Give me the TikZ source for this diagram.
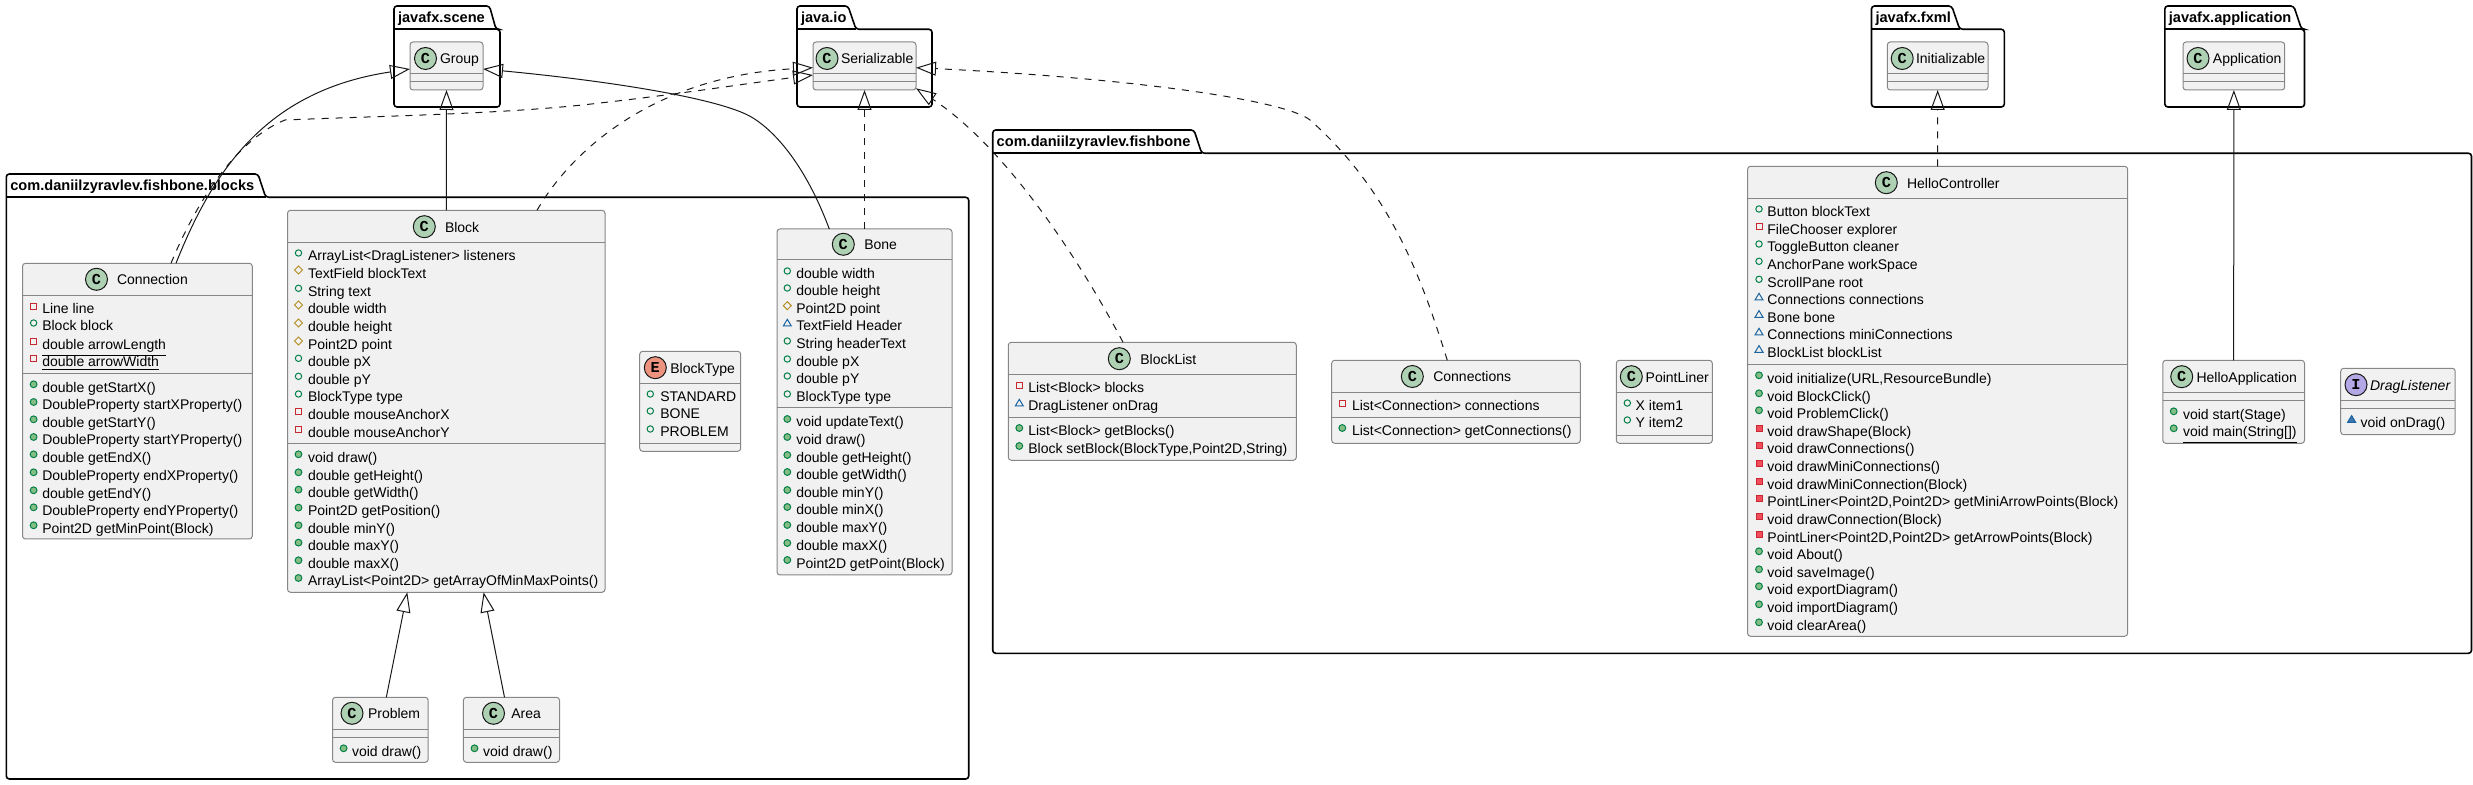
\documentclass[tikz,border=0pt]{standalone}
\usepackage{fontspec}
\setmainfont{Liberation Sans}
\newfontfamily\badgefont{Liberation Mono}[BoldFont={* Bold}]
\usetikzlibrary{arrows.meta}
\definecolor{boxfill}{HTML}{F1F1F1}
\definecolor{boxedge}{HTML}{868686}
\definecolor{linedark}{HTML}{181818}
\definecolor{cbadge}{HTML}{ADD1B2}
\definecolor{ebadge}{HTML}{EB937F}
\definecolor{ibadge}{HTML}{B4A7E5}
\definecolor{pubedge}{HTML}{038048}
\definecolor{pubfill}{HTML}{84BE84}
\definecolor{priedge}{HTML}{C82930}
\definecolor{prifill}{HTML}{F24D5C}
\definecolor{proedge}{HTML}{B38D22}
\definecolor{pacedge}{HTML}{1963A0}
\definecolor{pacfill}{HTML}{4177AF}
\def\px{0.5pt}
\tikzset{
  classbox/.style={draw=boxedge,fill=boxfill,line width=0.5pt,rounded corners=1.5pt,inner sep=0pt,outer sep=0pt,rectangle},
  classline/.style={draw=boxedge,line width=0.5pt},
  badge/.style={circle,draw=linedark,line width=0.5pt,inner sep=0pt,minimum size=11pt,font=\badgefont\bfseries\fontsize{7.6}{8}\selectfont},
  nametext/.style={anchor=base west,inner sep=0pt,outer sep=0pt,font=\fontsize{7}{8}\selectfont,text=black},
  rowtext/.style={anchor=base west,inner sep=0pt,outer sep=0pt,font=\fontsize{7}{8}\selectfont,text=black},
  pkgtext/.style={anchor=base west,inner sep=0pt,outer sep=0pt,font=\bfseries\fontsize{7.3}{8}\selectfont,text=black},
  pkgline/.style={draw=black,line width=0.8pt},
  inh/.style={draw=linedark,line width=0.5pt,-{Triangle[open,length=10pt,width=7pt]}},
  impl/.style={inh,dash pattern=on 3.5pt off 3.5pt},
}
\newcounter{rown}
\def\iconx{0}\def\textx{0}
\newcommand{\rowlabel}[2]{\stepcounter{rown}\edef\rowname{r\arabic{rown}}\node[rowtext] (\rowname) at (\textx,#1+5) {#2};}
\newcommand{\rPubF}[2]{\draw[pubedge,line width=0.5pt] (\iconx,#1-3) circle[radius=3.2];\rowlabel{#1}{#2}}
\newcommand{\rPubM}[2]{\draw[pubedge,fill=pubfill,line width=0.5pt] (\iconx,#1-3) circle[radius=3.4];\rowlabel{#1}{#2}}
\newcommand{\rPriF}[2]{\draw[priedge,line width=0.5pt] (\iconx-3,#1-5.3) rectangle (\iconx+3,#1+0.7);\rowlabel{#1}{#2}}
\newcommand{\rPriM}[2]{\draw[priedge,fill=prifill,line width=0.5pt] (\iconx-3,#1-5.3) rectangle (\iconx+3,#1+0.7);\rowlabel{#1}{#2}}
\newcommand{\rProF}[2]{\draw[proedge,line width=0.5pt] (\iconx,#1-7.3) -- (\iconx+4,#1-3.3) -- (\iconx,#1+0.7) -- (\iconx-4,#1-3.3) -- cycle;\rowlabel{#1}{#2}}
\newcommand{\rPacF}[2]{\draw[pacedge,line width=0.5pt] (\iconx,#1-6.7) -- (\iconx+4,#1) -- (\iconx-4,#1) -- cycle;\rowlabel{#1}{#2}}
\newcommand{\rPacM}[2]{\draw[pacedge,fill=pacfill,line width=0.5pt] (\iconx,#1-6.7) -- (\iconx+4,#1) -- (\iconx-4,#1) -- cycle;\rowlabel{#1}{#2}}
\newcommand{\cbox}[7]{%
  \node[classbox,anchor=north west,minimum width={(#4-#2)*\px},minimum height={(#5-#3)*\px}] (#1) at (#2,#3) {};
  \draw[classline] (#2,#6) -- (#4,#6) (#2,#7) -- (#4,#7);}
\newcommand{\chead}[7]{%
  \node[badge,fill=#4] (#1Badge) at (#2,#3) {#5};
  \node[nametext] (#1Title) at (#6,#3+5.5) {#7};}
\newcommand{\pkg}[9]{%
  \draw[pkgline,rounded corners=1.5pt] (#2,#8) -- (#2,#3) -- (#4,#3) -- (#5,#6) -- (#7,#6) -- (#7,#8) -- cycle;
  \draw[pkgline] (#2,#6) -- (#5,#6);
  \node[pkgtext] (#1) at (#2+4,#3+17) {#9};}
\begin{document}
\begin{tikzpicture}[x=0.5pt,y=-0.5pt]
\useasboundingbox (0,0) rectangle (2473,785);
% packages
\pkg{pkgScene}{394}{6}{489.5}{496}{29.3}{500}{107}{javafx.scene}
\pkg{pkgIo}{797}{6}{848}{856}{29.3}{932}{107}{java.io}
\pkg{pkgFxml}{1871.5}{6}{1951.7}{1959.7}{29.3}{2004.3}{107}{javafx.fxml}
\pkg{pkgApp}{2164.8}{6}{2293.7}{2301.6}{29.3}{2304.5}{107}{javafx.application}
\pkg{pkgBlocks}{6.3}{174}{258}{265.7}{197.3}{968.7}{779}{com.daniilzyravlev.fishbone.blocks}
\pkg{pkgFish}{992.7}{130}{1194}{1201.7}{153.3}{2471.5}{653.3}{com.daniilzyravlev.fishbone}
% imported classes
\cbox{Group}{410}{42}{483}{90}{74}{82}
\chead{Group}{425.5}{58.5}{cbadge}{C}{440}{Group}
\cbox{Serializable}{813}{42}{916}{90}{74}{82}
\chead{Serializable}{827}{58.5}{cbadge}{C}{841}{Serializable}
\cbox{Initializable}{1887.3}{42}{1988}{90}{74}{82}
\chead{Initializable}{1902.2}{58.5}{cbadge}{C}{1916}{Initializable}
\cbox{Application}{2183}{42}{2284.7}{90}{74}{82}
\chead{Application}{2198}{58.5}{cbadge}{C}{2212.9}{Application}
% Connection
\cbox{Connection}{22.5}{263.3}{252.3}{539}{295.3}{373.3}
\chead{Connection}{96.5}{279.3}{cbadge}{C}{117}{Connection}
\def\iconx{33.6}\def\textx{42.3}
\rPriF{309}{Line line}
\rPubF{326}{Block block}
\rPriF{344.3}{\underline{double arrowLength}}
\rPriF{361.3}{\underline{double arrowWidth}}
\rPubM{387.3}{double getStartX()}
\rPubM{405}{DoubleProperty startXProperty()}
\rPubM{422.3}{double getStartY()}
\rPubM{440}{DoubleProperty startYProperty()}
\rPubM{457.3}{double getEndX()}
\rPubM{475.3}{DoubleProperty endXProperty()}
\rPubM{493.3}{double getEndY()}
\rPubM{510.3}{DoubleProperty endYProperty()}
\rPubM{528.3}{Point2D getMinPoint(Block)}
% Block
\cbox{Block}{287.5}{210.3}{605}{592.3}{242.3}{443.3}
\chead{Block}{424.3}{226.7}{cbadge}{C}{445}{Block}
\def\iconx{298.5}\def\textx{308}
\rPubF{256}{ArrayList<DragListener> listeners}
\rProF{273.3}{TextField blockText}
\rPubF{291.3}{String text}
\rProF{308.3}{double width}
\rProF{326.3}{double height}
\rProF{344.3}{Point2D point}
\rPubF{361.3}{double pX}
\rPubF{379.3}{double pY}
\rPubF{397}{BlockType type}
\rPriF{414.3}{double mouseAnchorX}
\rPriF{432.3}{double mouseAnchorY}
\rPubM{457.3}{void draw()}
\rPubM{475.3}{double getHeight()}
\rPubM{492.6}{double getWidth()}
\rPubM{510.6}{Point2D getPosition()}
\rPubM{528.3}{double minY()}
\rPubM{545.6}{double maxY()}
\rPubM{563.3}{double maxX()}
\rPubM{581}{ArrayList<Point2D> getArrayOfMinMaxPoints()}
% Problem, Area
\cbox{Problem}{332.5}{697.3}{428.2}{762.3}{729.3}{737.3}
\chead{Problem}{352}{713.3}{cbadge}{C}{368}{Problem}
\def\iconx{343.6}\def\textx{352}
\rPubM{751.3}{void draw()}
\cbox{Area}{463.4}{697.3}{559.5}{762.3}{729.3}{737.3}
\chead{Area}{493.5}{713.3}{cbadge}{C}{511.3}{Area}
\def\iconx{474.5}\def\textx{483.2}
\rPubM{751.3}{void draw()}
% BlockType
\cbox{BlockType}{639.7}{351.3}{740.7}{451.3}{383.3}{443.3}
\chead{BlockType}{655.3}{367.7}{ebadge}{E}{670.3}{BlockType}
\def\iconx{650.3}\def\textx{660.3}
\rPubF{397}{STANDARD}
\rPubF{414}{BONE}
\rPubF{432}{PROBLEM}
% Bone
\cbox{Bone}{777}{229}{952}{575}{260}{408}
\chead{Bone}{843.3}{244.3}{cbadge}{C}{864.3}{Bone}
\def\iconx{787.3}\def\textx{796.3}
\rPubF{274}{double width}
\rPubF{291}{double height}
\rProF{309}{Point2D point}
\rPacF{326}{TextField Header}
\rPubF{344}{String headerText}
\rPubF{362}{double pX}
\rPubF{379}{double pY}
\rPubF{397}{BlockType type}
\rPubM{422}{void updateText()}
\rPubM{440}{void draw()}
\rPubM{458}{double getHeight()}
\rPubM{475}{double getWidth()}
\rPubM{493}{double minY()}
\rPubM{510}{double minX()}
\rPubM{528}{double maxY()}
\rPubM{546}{double maxX()}
\rPubM{563}{Point2D getPoint(Block)}
% BlockList
\cbox{BlockList}{1008.3}{342.3}{1296.3}{460.3}{374.3}{417.3}
\chead{BlockList}{1119.3}{358.7}{cbadge}{C}{1140.3}{BlockList}
\def\iconx{1019.3}\def\textx{1028.3}
\rPriF{388}{List<Block> blocks}
\rPacF{406}{DragListener onDrag}
\rPubM{431}{List<Block> getBlocks()}
\rPubM{449}{Block setBlock(BlockType,Point2D,String)}
% Connections
\cbox{Connections}{1331.7}{360.3}{1580.3}{443.3}{392.3}{417.3}
\chead{Connections}{1412.3}{376.5}{cbadge}{C}{1433.3}{Connections}
\def\iconx{1342.3}\def\textx{1352}
\rPriF{406}{List<Connection> connections}
\rPubM{431}{List<Connection> getConnections()}
% PointLiner
\cbox{PointLiner}{1616.3}{360.3}{1712.3}{443.3}{392.3}{435.3}
\chead{PointLiner}{1631.3}{376.7}{cbadge}{C}{1645.7}{PointLiner}
\def\iconx{1627.3}\def\textx{1635.7}
\rPubF{406}{X item1}
\rPubF{423}{Y item2}
% HelloController
\cbox{HelloController}{1747.6}{166.3}{2127.6}{636.3}{198.3}{364.3}
\chead{HelloController}{1886.3}{182.7}{cbadge}{C}{1907}{HelloController}
\def\iconx{1759}\def\textx{1767.4}
\rPubF{212}{Button blockText}
\rPriF{229.3}{FileChooser explorer}
\rPubF{247}{ToggleButton cleaner}
\rPubF{264.3}{AnchorPane workSpace}
\rPubF{282.3}{ScrollPane root}
\rPacF{300}{Connections connections}
\rPacF{317.3}{Bone bone}
\rPacF{335}{Connections miniConnections}
\rPacF{352.3}{BlockList blockList}
\rPubM{378.3}{void initialize(URL,ResourceBundle)}
\rPubM{396.3}{void BlockClick()}
\rPubM{413.3}{void ProblemClick()}
\rPriM{431.3}{void drawShape(Block)}
\rPriM{448.3}{void drawConnections()}
\rPriM{466.3}{void drawMiniConnections()}
\rPriM{484.3}{void drawMiniConnection(Block)}
\rPriM{501.3}{PointLiner<Point2D,Point2D> getMiniArrowPoints(Block)}
\rPriM{519.3}{void drawConnection(Block)}
\rPriM{537.3}{PointLiner<Point2D,Point2D> getArrowPoints(Block)}
\rPubM{554.3}{void About()}
\rPubM{572.3}{void saveImage()}
\rPubM{589.3}{void exportDiagram()}
\rPubM{607.3}{void importDiagram()}
\rPubM{625.3}{void clearArea()}
% HelloApplication
\cbox{HelloApplication}{2162.8}{360.3}{2304.5}{443.3}{392.3}{400.3}
\chead{HelloApplication}{2181.7}{376.7}{cbadge}{C}{2196.5}{HelloApplication}
\def\iconx{2173.7}\def\textx{2183}
\rPubM{414.3}{void start(Stage)}
\rPubM{431.3}{\underline{void main(String[])}}
% DragListener
\cbox{DragListener}{2340.7}{368.3}{2455.2}{434.7}{400.3}{408.3}
\chead{DragListener}{2356}{384.7}{ibadge}{I}{2370}{\itshape DragListener}
\def\iconx{2351.6}\def\textx{2360.5}
\rPacM{422.3}{void onDrag()}
% connectors
\draw[inh] (Block.north) -- (Group.south);
\draw[inh] ([shift={(153.5,0)}]Connection.north west) .. controls (215,165) and (270,90) .. ([shift={(0,27)}]Group.north west);
\draw[inh] ([shift={(52.3,0)}]Bone.north west) .. controls (808,172) and (780,135) .. (753,118) .. controls (725,100) and (620,82) .. ([shift={(0,27)}]Group.north east);
\draw[impl] ([shift={(148.5,0)}]Connection.north west) .. controls (195,205) and (235,140) .. (285,120) .. controls (380,116) and (510,114) .. (600,103) .. controls (680,94) and (750,83) .. ([shift={(0,33)}]Serializable.north west);
\draw[impl] ([shift={(249.5,0)}]Block.north west) .. controls (575,145) and (660,76) .. ([shift={(0,25.7)}]Serializable.north west);
\draw[impl] (Bone.north) -- (Serializable.south);
\draw[impl] ([shift={(114.7,0)}]BlockList.north west) .. controls (1085,270) and (1010,150) .. ([shift={(0,-1.7)}]Serializable.south east);
\draw[impl] ([shift={(115.6,0)}]Connections.north west) .. controls (1425,290) and (1395,195) .. (1310,120) .. controls (1285,100) and (1130,78) .. ([shift={(0,25.7)}]Serializable.north east);
\draw[impl] (HelloController.north) -- (Initializable.south);
\draw[inh] (HelloApplication.north) -- (Application.south);
\draw[inh] ([shift={(53.8,0)}]Problem.north west) -- ([shift={(119.8,0)}]Block.south west);
\draw[inh] ([shift={(41.1,0)}]Area.north west) -- ([shift={(196.1,0)}]Block.south west);
\end{tikzpicture}
\end{document}
